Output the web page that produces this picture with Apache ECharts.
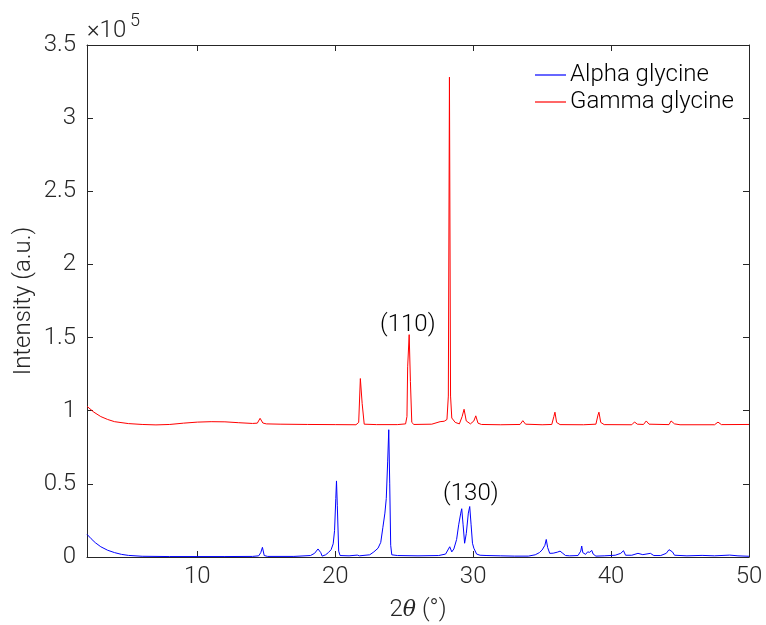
<!DOCTYPE html>
<html>
<head>
<meta charset="utf-8">
<title>Glycine XRD</title>
<script src="https://cdn.jsdelivr.net/npm/echarts@6/dist/echarts.min.js"></script>
<style>
  html, body { margin: 0; padding: 0; background: #ffffff; }
  #chart { width: 766px; height: 625px; }
</style>
</head>
<body>
<div id="chart"></div>
<script>
// Powder XRD patterns of the two glycine polymorphs (intensity in counts)
const seriesNames = ['Alpha glycine', 'Gamma glycine'];

const alphaTheta = [
  2.0, 2.3, 2.6, 3.0, 3.5, 4.0, 4.5, 5.0, 6.0, 8.0, 10.0, 12.0, 14.0,
  14.45, 14.6, 14.72, 14.85, 15.1, 17.0, 18.2, 18.5, 18.75, 18.85, 18.95, 19.05,
  19.3, 19.5, 19.7, 19.85, 19.95, 20.04, 20.09, 20.15, 20.25, 20.35, 21.0, 21.6, 21.75,
  22.5, 22.8, 23.1, 23.3, 23.45, 23.6, 23.7, 23.8, 23.88, 23.95, 24.02, 24.1, 24.5,
  26.0, 27.5, 28.0, 28.3, 28.45, 28.6, 28.8, 28.95, 29.1, 29.17, 29.27, 29.38,
  29.5, 29.65, 29.75, 29.85, 29.95, 30.05, 30.12, 30.25, 30.5, 31.0, 32.0, 33.0,
  34.0, 34.5, 34.8, 35.0, 35.2, 35.3, 35.4, 35.55, 35.8, 36.1, 36.3, 36.5, 36.7,
  37.0, 37.6, 37.8, 37.87, 37.95, 38.15, 38.3, 38.45, 38.6, 38.7, 38.9, 39.5,
  40.3, 40.7, 40.9, 41.05, 41.5, 41.95, 42.3, 42.85, 43.1, 43.6, 44.0, 44.2,
  44.3, 44.45, 44.6, 45.5, 46.6, 47.5, 48.6, 49.2, 50.0
];
const alphaIntensity = [
  15500, 12500, 9800, 7000, 4600, 3000, 1800, 1100, 500, 300, 300, 300, 400,
  800, 3000, 6600, 1000, 400, 400, 1000, 2500, 5500, 6400, 3000, 600,
  1500, 3000, 5000, 9000, 18000, 40000, 52000, 35000, 4000, 1000, 800, 1300, 800,
  1500, 3500, 6000, 10000, 20000, 30000, 40000, 65000, 87000, 50000, 8000, 1500, 1000,
  800, 1000, 2000, 7000, 3500, 5500, 12000, 22000, 30000, 33000, 22000, 9400,
  16000, 30000, 34500, 22000, 9400, 6000, 7000, 2000, 1200, 1000, 800, 600,
  600, 1500, 3000, 4800, 8000, 12000, 6500, 2500, 2600, 3300, 4000, 2500, 1000,
  800, 1000, 4000, 7500, 3000, 1800, 3500, 3200, 4500, 2000, 600, 800,
  1200, 2500, 4300, 1200, 1200, 2500, 1600, 2500, 1000, 1000, 2500, 5000,
  4000, 3500, 1200, 800, 1100, 800, 1300, 800, 500
];

const gammaTheta = [
  2.0, 2.5, 3.0, 3.5, 4.0, 5.0, 6.0, 7.0, 8.0, 9.0, 10.0, 11.0, 12.0, 13.0, 14.0,
  14.35, 14.55, 14.75, 15.0, 16.0, 18.0, 20.0, 21.5, 21.7, 21.82, 21.95, 22.1, 23.0,
  24.5, 25.1, 25.2, 25.25, 25.3, 25.36, 25.45, 25.55, 25.7, 27.0, 27.6, 27.9, 28.1,
  28.2, 28.28, 28.36, 28.45, 28.7, 29.0, 29.2, 29.34, 29.5, 29.8, 30.05, 30.19, 30.35,
  30.6, 32.0, 33.4, 33.6, 33.8, 35.0, 35.7, 35.85, 35.93, 36.05, 36.3, 38.0, 38.9,
  39.05, 39.12, 39.25, 39.5, 41.5, 41.7, 41.9, 42.35, 42.55, 42.75, 44.2, 44.35,
  44.45, 44.6, 45.0, 47.5, 47.75, 48.0, 50.0
];
const gammaIntensity = [
  103000, 99000, 96000, 94000, 92500, 91200, 90600, 90300, 90600, 91500, 92200, 92500, 92400, 91800, 91300,
  91500, 94800, 91600, 91000, 90800, 90600, 90500, 90400, 92000, 122000, 105000, 90800, 90500,
  90500, 91000, 96000, 130000, 131000, 152000, 120000, 92000, 90600, 90800, 92500, 92800, 94000,
  110000, 328000, 110000, 95000, 92000, 91000, 96000, 101000, 93000, 91000, 93000, 96500, 91500,
  90600, 90400, 90600, 93200, 90800, 90400, 90600, 96000, 99000, 92000, 90500, 90400, 90800,
  97000, 99000, 92000, 90500, 90400, 92300, 90800, 90600, 93000, 90800, 90500, 93000,
  94000, 91000, 90400, 90400, 92200, 90500, 90600
];

// Peak annotations: Miller indices placed above their reflections
const peakLabels = ['(110)', '(130)'];
const peakLabelTheta = [25.26, 29.83];
const peakLabelIntensity = [158500, 43000];

// Axis ticks
const xTicks = [10, 20, 30, 40, 50];
const yMin = 0, yMax = 350000, yStep = 50000;
const yScale = 1e5;

const FONT = 'Roboto, "Liberation Sans", sans-serif';
const INK = '#262626';
const FS = 24;

const pairs = (xs, ys) => xs.map((x, i) => [x, ys[i]]);

const chart = echarts.init(document.getElementById('chart'), null, { renderer: 'canvas' });

const frameAxisX = (pos, showLabel) => ({
  type: 'value', position: pos, min: 2, max: 50,
  axisLine: { show: true, onZero: false, lineStyle: { color: INK, width: 1 } },
  axisTick: { show: true, inside: true, length: 6, customValues: xTicks, lineStyle: { color: INK } },
  axisLabel: { show: showLabel, customValues: xTicks, color: INK, fontFamily: FONT, fontSize: FS, fontWeight: 300, margin: 8 },
  splitLine: { show: false }
});
const frameAxisY = (pos, showLabel) => ({
  type: 'value', position: pos, min: yMin, max: yMax, interval: yStep,
  axisLine: { show: true, onZero: false, lineStyle: { color: INK, width: 1 } },
  axisTick: { show: true, inside: true, length: 6, lineStyle: { color: INK } },
  axisLabel: { show: showLabel, color: INK, fontFamily: FONT, fontSize: FS, fontWeight: 300, margin: 11,
               formatter: v => String(v / yScale) },
  splitLine: { show: false }
});

const xMain = frameAxisX('bottom', true);
xMain.name = '2{i|θ} (°)';
xMain.nameLocation = 'middle';
xMain.nameGap = 41;
xMain.nameTextStyle = { color: INK, fontFamily: FONT, fontSize: FS, fontWeight: 300,
  rich: { i: { fontStyle: 'italic', fontFamily: '"DejaVu Serif", serif', fontSize: 22, color: INK } } };

const yMain = frameAxisY('left', true);
yMain.name = 'Intensity (a.u.)';
yMain.nameLocation = 'middle';
yMain.nameGap = 51;
yMain.nameMoveOverlap = false;
yMain.nameTextStyle = { color: INK, fontFamily: FONT, fontSize: FS, fontWeight: 300 };

const peakLabelStyle = { show: true, formatter: '{b}', color: '#000000', fontFamily: FONT, fontSize: FS, fontWeight: 300 };

chart.setOption({
  animation: false,
  backgroundColor: '#ffffff',
  grid: { left: 87, right: 17, top: 45, bottom: 68, containLabel: false, outerBoundsMode: 'none' },
  xAxis: [xMain, frameAxisX('top', false)],
  yAxis: [yMain, frameAxisY('right', false)],
  legend: {
    orient: 'vertical', left: 530, top: 58, itemGap: 3,
    itemWidth: 31, itemHeight: 1.2, icon: 'rect',
    textStyle: { color: '#000000', fontFamily: FONT, fontSize: FS, fontWeight: 300, padding: [0, 0, 0, -1] },
    data: seriesNames
  },
  series: [
    {
      name: seriesNames[0], type: 'line', data: pairs(alphaTheta, alphaIntensity),
      showSymbol: false, symbol: 'none', color: '#0000ff',
      lineStyle: { color: '#0000ff', width: 1 },
      markPoint: {
        symbol: 'circle', symbolSize: 0, silent: true, label: peakLabelStyle,
        data: [{ name: peakLabels[1], coord: [peakLabelTheta[1], peakLabelIntensity[1]] }]
      }
    },
    {
      name: seriesNames[1], type: 'line', data: pairs(gammaTheta, gammaIntensity),
      showSymbol: false, symbol: 'none', color: '#ff0000',
      lineStyle: { color: '#ff0000', width: 1 },
      markPoint: {
        symbol: 'circle', symbolSize: 0, silent: true, label: peakLabelStyle,
        data: [{ name: peakLabels[0], coord: [peakLabelTheta[0], peakLabelIntensity[0]] }]
      }
    }
  ],
  graphic: [
    { type: 'text', left: 87, top: 19, style: { text: '×10', fill: INK, font: '300 24px ' + FONT } },
    { type: 'text', left: 130, top: 12, style: { text: '5', fill: INK, font: '300 18px ' + FONT } }
  ]
});
</script>
</body>
</html>
